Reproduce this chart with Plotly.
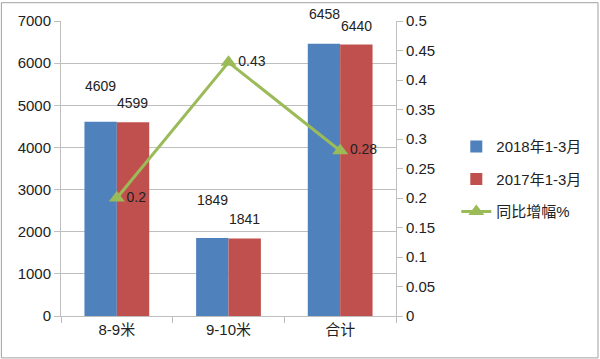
import plotly.graph_objects as go

categories = ["8-9米", "9-10米", "合计"]
s2018 = [4609, 1849, 6458]
s2017 = [4599, 1841, 6440]
growth = [0.2, 0.43, 0.28]
names = ["2018年1-3月", "2017年1-3月", "同比增幅%"]

FONT = "Liberation Sans, Noto Sans CJK SC, sans-serif"
BLUE = "#4F81BD"
RED = "#C0504D"
GREEN = "#9BBB59"
GRID = "#BFBFBF"

fig = go.Figure()
fig.add_trace(go.Bar(x=categories, y=s2018, name=names[0], marker_color=BLUE,
                     marker_line_width=0, offsetgroup="a", legendgroup="a"))
fig.add_trace(go.Bar(x=categories, y=s2017, name=names[1], marker_color=RED,
                     marker_line_width=0, offsetgroup="b", legendgroup="b"))
fig.add_trace(go.Scatter(x=categories, y=growth, name=names[2], yaxis="y2", legendgroup="c",
                         mode="lines+markers+text",
                         line=dict(color=GREEN, width=3),
                         marker=dict(symbol="triangle-up", size=14, color=GREEN),
                         text=[str(g) for g in growth], textposition="middle right",
                         textfont=dict(size=14, color="#222", family=FONT)))

# bar labels (Excel-style offsets)
blue_shift = [34, 36, 28]
red_shift = [17, 17, 17]
for i, c in enumerate(categories):
    fig.add_annotation(x=c, y=s2018[i], text=str(s2018[i]), xshift=-16, yshift=blue_shift[i] + 2,
                       showarrow=False, font=dict(size=14, color="#222", family=FONT), yanchor="middle")
    fig.add_annotation(x=c, y=s2017[i], text=str(s2017[i]), xshift=16, yshift=red_shift[i] + 2,
                       showarrow=False, font=dict(size=14, color="#222", family=FONT), yanchor="middle")

fig.update_layout(
    width=600, height=359,
    margin=dict(l=61, r=204, t=19, b=43),
    paper_bgcolor="white", plot_bgcolor="white",
    barmode="group", bargap=0.42, bargroupgap=0,
    font=dict(family=FONT, size=13, color="#333"),
    xaxis=dict(showline=True, linecolor=GRID, ticks="outside", tickcolor=GRID, ticklen=6,
               tickson="boundaries", showgrid=False,
               tickfont=dict(size=15, color="#222", family=FONT)),
    yaxis=dict(range=[0, 7000], dtick=1000, showgrid=True, gridcolor=GRID, gridwidth=1,
               showline=True, linecolor=GRID, ticks="outside", tickcolor=GRID, ticklen=6,
               zeroline=False, tickfont=dict(size=15, color="#222", family=FONT)),
    yaxis2=dict(range=[0, 0.5], dtick=0.05, overlaying="y", side="right", showgrid=False,
                showline=True, linecolor=GRID, ticks="outside", tickcolor=GRID, ticklen=6,
                zeroline=False, tickformat="~g",
                tickfont=dict(size=15, color="#222", family=FONT)),
    legend=dict(x=1.18, y=0.63, xanchor="left", yanchor="top",
                font=dict(size=15, color="#222", family=FONT), traceorder="grouped",
                tracegroupgap=10, itemwidth=30, bgcolor="rgba(0,0,0,0)"),
    showlegend=True,
)
fig.add_shape(type="rect", xref="paper", yref="paper", x0=-0.178, x1=1.603, y0=-0.142, y1=1.062,
              line=dict(color="#A0A0A0", width=1))
fig.write_html("out.html", config={"displayModeBar": False},
               post_script="document.body.style.margin='0px';")
